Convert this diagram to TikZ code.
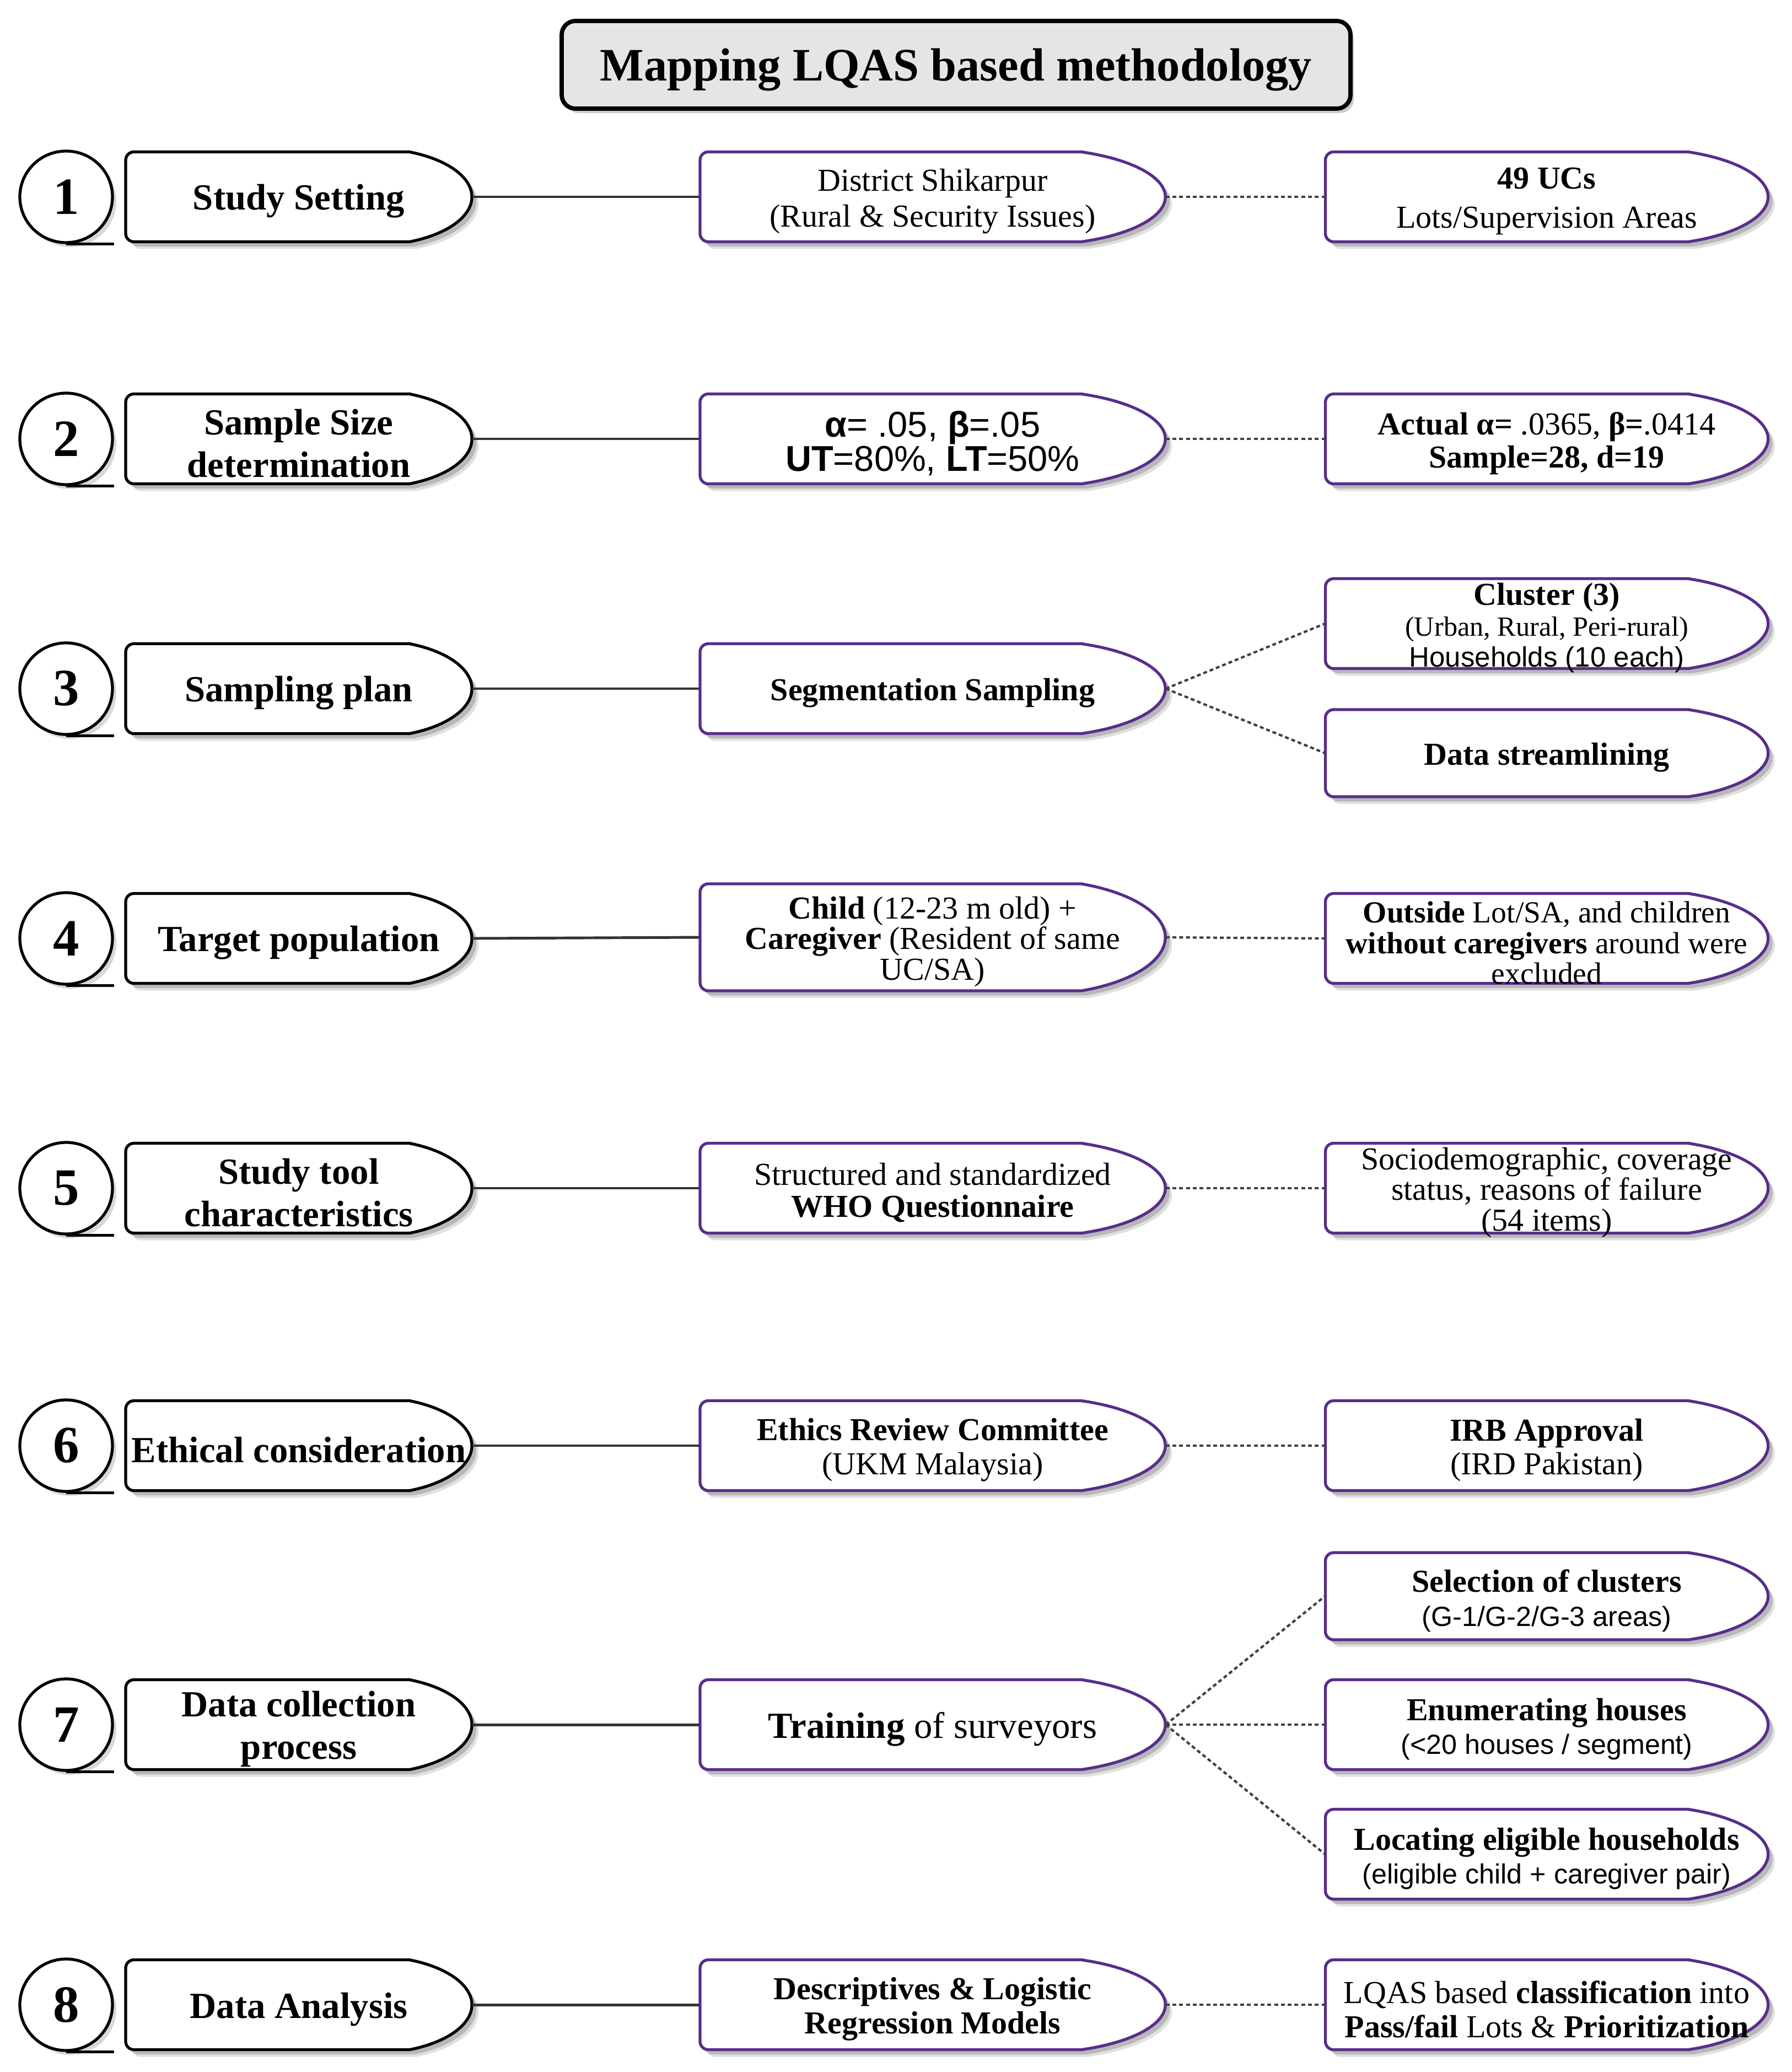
\documentclass[tikz,border=0pt]{standalone}
\usepackage{fontspec}
\setmainfont{Liberation Serif}
\setsansfont{Liberation Sans}
\usetikzlibrary{shapes.geometric,shadows}
\definecolor{pur}{RGB}{88,45,140}
\newcommand{\fs}[2]{\fontsize{#1}{#2}\selectfont}
% bulged box outline centred at origin: #1 width, #2 height (cm)
\newcommand{\bulgepath}[2]{({#1/2-0.18*#1},{#2/2}) -- ({-#1/2+0.15},{#2/2}) arc[start angle=90,end angle=180,radius=0.15] -- ({-#1/2},{-#2/2+0.15}) arc[start angle=180,end angle=270,radius=0.15] -- ({#1/2-0.18*#1},{-#2/2}) arc[start angle=-68,end angle=68,x radius={1.6*0.18*#1},y radius={0.539*#2}] -- cycle}
% #1 name, #2 x, #3 y, #4 w, #5 h, #6 colour, #7 text options, #8 text
\newcommand{\bulgebox}[8]{%
  \begin{scope}[shift={(#2,#3)}]
    \fill[black!12, shift={(0.12,-0.13)}] \bulgepath{#4}{#5};
    \fill[black!28, shift={(0.08,-0.085)}] \bulgepath{#4}{#5};
    \draw[fill=white, draw=#6, line width=1.5pt] \bulgepath{#4}{#5};
  \end{scope}
  \node[inner sep=0pt, minimum width=#4cm, minimum height=#5cm] (#1) at (#2,#3) {};
  \node[boxtext, #7] (#1-t) at ([yshift=-0.08cm]#1.center) {#8};
}
\tikzset{
  boxtext/.style={inner sep=0pt, align=center, text=black, font=\fs{16.5}{17.6}},
  lft/.style={font=\fs{19}{22}\bfseries},
  circ/.style={ellipse, draw=black, line width=1.5pt, fill=white, minimum width=1.68cm, minimum height=1.66cm, inner sep=0pt, font=\fs{27}{30}\bfseries, drop shadow={shadow xshift=0.07cm, shadow yshift=-0.08cm, fill=black!30}},
  titlebox/.style={draw=black, line width=2.2pt, rounded corners=0.25cm, fill=black!10, minimum width=14.31cm, minimum height=1.59cm, text height=0.68cm, text depth=0.1cm, font=\fs{24}{28}\bfseries, drop shadow={shadow xshift=0.06cm, shadow yshift=-0.08cm, fill=black!40}},
  solidconn/.style={draw=black!80, line width=1.4pt},
  dashconn/.style={draw=black!75, line width=1.2pt, dash pattern=on 2pt off 1.5pt},
  uline/.style={draw=black, line width=1.6pt}
}
\begin{document}
\begin{tikzpicture}
\fill[white] (0,0) rectangle (32.5,-37.58);
\useasboundingbox (0,0) rectangle (32.5,-37.58);

% title
\node[titlebox] (title) at (17.345,-1.175) {Mapping LQAS based methodology};

% numbered circles
\foreach \i/\y in {1/-3.57, 2/-7.96, 3/-12.49, 4/-17.02, 5/-21.55, 6/-26.22, 7/-31.28, 8/-36.36}{
  \node[circ] (C\i) at (1.20,\y) {\i};
  \draw[uline] (C\i.south) -- (C\i.south -| C\i.east);
}

% row 1
\bulgebox{L1}{5.42}{-3.57}{6.28}{1.63}{black}{lft}{Study Setting}
\bulgebox{M1}{16.92}{-3.57}{8.44}{1.63}{pur}{font=\fs{16.5}{18.5}}{District Shikarpur\\(Rural \& Security Issues)}
\bulgebox{R1}{28.06}{-3.57}{8.03}{1.63}{pur}{font=\fs{16.5}{20}}{\textbf{49 UCs}\\Lots/Supervision Areas}

% row 2
\bulgebox{L2}{5.42}{-7.96}{6.28}{1.63}{black}{lft}{Sample Size\\determination}
\bulgebox{M2}{16.92}{-7.96}{8.44}{1.63}{pur}{font=\sffamily\fs{18.5}{17.6}}{\textbf{α}= .05, \textbf{β}=.05\\\textbf{UT}=80\%, \textbf{LT}=50\%}
\bulgebox{R2}{28.06}{-7.96}{8.03}{1.63}{pur}{font=\fs{16.5}{17.1}}{\textbf{Actual α=} .0365, \textbf{β=}.0414\\\textbf{Sample=28, d=19}}

% row 3
\bulgebox{L3}{5.42}{-12.49}{6.28}{1.63}{black}{lft}{Sampling plan}
\bulgebox{M3}{16.92}{-12.49}{8.44}{1.63}{pur}{}{\textbf{Segmentation Sampling}}
\bulgebox{R3a}{28.06}{-11.31}{8.03}{1.63}{pur}{font=\fs{16.5}{15.9}}{\textbf{Cluster (3)}\\{\fs{14.3}{15.9}(Urban, Rural, Peri-rural)}\\{\sffamily\fs{14.5}{15.9}Households (10 each)}}
\bulgebox{R3b}{28.06}{-13.66}{8.03}{1.58}{pur}{}{\textbf{Data streamlining}}

% row 4
\bulgebox{L4}{5.42}{-17.02}{6.28}{1.63}{black}{lft}{Target population}
\bulgebox{M4}{16.92}{-17.00}{8.44}{1.94}{pur}{font=\fs{16.5}{15.9}}{\textbf{Child} (12-23 m old) +\\\textbf{Caregiver} (Resident of same\\UC/SA)}
\bulgebox{R4}{28.06}{-17.02}{8.03}{1.63}{pur}{font=\fs{15.8}{15.9}}{\textbf{Outside} Lot/SA, and children\\\textbf{without caregivers} around were\\excluded}

% row 5
\bulgebox{L5}{5.42}{-21.55}{6.28}{1.63}{black}{lft}{Study tool\\characteristics}
\bulgebox{M5}{16.92}{-21.55}{8.44}{1.63}{pur}{font=\fs{16.5}{16.5}}{Structured and standardized\\\textbf{WHO Questionnaire}}
\bulgebox{R5}{28.06}{-21.55}{8.03}{1.63}{pur}{font=\fs{16.5}{15.9}}{Sociodemographic, coverage\\status, reasons of failure\\(54 items)}

% row 6
\bulgebox{L6}{5.42}{-26.22}{6.28}{1.63}{black}{lft}{Ethical consideration}
\bulgebox{M6}{16.92}{-26.22}{8.44}{1.63}{pur}{}{\textbf{Ethics Review Committee}\\(UKM Malaysia)}
\bulgebox{R6}{28.06}{-26.22}{8.03}{1.63}{pur}{}{\textbf{IRB Approval}\\(IRD Pakistan)}

% row 7
\bulgebox{L7}{5.42}{-31.28}{6.28}{1.63}{black}{lft}{Data collection\\process}
\bulgebox{M7}{16.92}{-31.28}{8.44}{1.63}{pur}{font=\fs{19}{21}}{\textbf{Training} of surveyors}
\bulgebox{R7a}{28.06}{-28.95}{8.03}{1.58}{pur}{}{\textbf{Selection of clusters}\\{\sffamily\fs{14.3}{17.6}(G-1/G-2/G-3 areas)}}
\bulgebox{R7b}{28.06}{-31.28}{8.03}{1.63}{pur}{}{\textbf{Enumerating houses}\\{\sffamily\fs{14.3}{17.6}(<20 houses / segment)}}
\bulgebox{R7c}{28.06}{-33.63}{8.03}{1.63}{pur}{}{\textbf{Locating eligible households}\\{\sffamily\fs{14.3}{17.6}(eligible child + caregiver pair)}}

% row 8
\bulgebox{L8}{5.42}{-36.36}{6.28}{1.63}{black}{lft}{Data Analysis}
\bulgebox{M8}{16.92}{-36.36}{8.44}{1.63}{pur}{}{\textbf{Descriptives \& Logistic}\\\textbf{Regression Models}}
\bulgebox{R8}{28.06}{-36.36}{8.03}{1.63}{pur}{}{LQAS based \textbf{classification} into\\\textbf{Pass/fail} Lots \& \textbf{Prioritization}}

% connectors
\foreach \i in {1,...,8}{\draw[solidconn] (L\i.east) -- (M\i.west);}
\foreach \i in {1,2,4,5,6,8}{\draw[dashconn] (M\i.east) -- (R\i.west);}
\draw[dashconn] (M3.east) -- (R3a.west);
\draw[dashconn] (M3.east) -- (R3b.west);
\draw[dashconn] (M7.east) -- (R7a.west);
\draw[dashconn] (M7.east) -- (R7b.west);
\draw[dashconn] (M7.east) -- (R7c.west);
\end{tikzpicture}
\end{document}
